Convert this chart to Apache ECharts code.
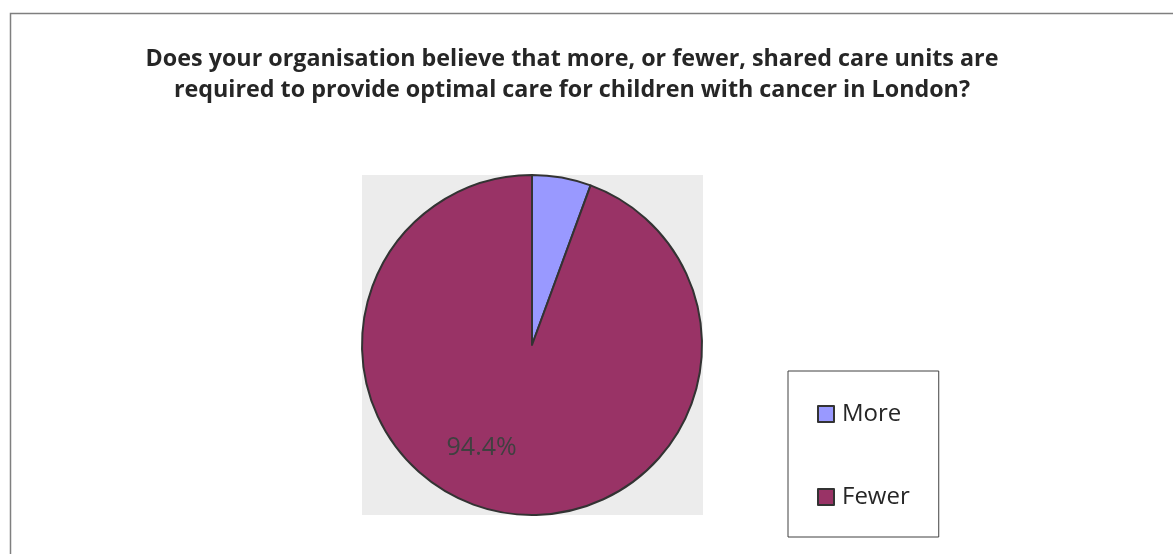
<!DOCTYPE html>
<html>
<head>
<meta charset="utf-8">
<script src="https://cdn.jsdelivr.net/npm/echarts@6/dist/echarts.min.js"></script>
<style>
html,body{margin:0;padding:0;background:#fff;}
#chart{width:1173px;height:554px;}
</style>
</head>
<body>
<div id="chart"></div>
<script>
const categories = ['More', 'Fewer'];
const values = [5.6, 94.4];
const colors = ['#9999FF', '#993366'];
const labelShown = [false, true];
const titleText = 'Does your organisation believe that more, or fewer, shared care units are\nrequired to provide optimal care for children with cancer in London?';

const chart = echarts.init(document.getElementById('chart'));
const option = {
  backgroundColor: '#ffffff',
  animation: false,
  title: {
    text: titleText,
    left: 567,
    textAlign: 'center',
    top: 39,
    textStyle: {
      fontFamily: 'Open Sans',
      fontWeight: 'bold',
      fontSize: 23.3,
      color: '#262626',
      lineHeight: 31
    }
  },
  graphic: [
    {
      type: 'rect',
      shape: { x: 10.5, y: 13.5, width: 1200, height: 600 },
      style: { fill: 'none', stroke: '#7f7f7f', lineWidth: 1.5 },
      z: -10
    },
    {
      type: 'rect',
      shape: { x: 362, y: 175, width: 341, height: 340 },
      style: { fill: '#ECECEC' },
      z: -5
    }
  ],
  legend: {
    orient: 'vertical',
    left: 788,
    top: 371,
    padding: [31, 29, 28, 29],
    itemGap: 59,
    itemWidth: 16,
    itemHeight: 16,
    borderColor: '#404040',
    borderWidth: 1,
    icon: 'rect',
    textStyle: { fontFamily: 'Open Sans', fontSize: 24, color: '#262626', padding: [0,0,0,3] },
    data: categories
  },
  series: [{
    type: 'pie',
    center: [532, 345],
    radius: 170,
    startAngle: 90,
    clockwise: true,
    label: {
      position: 'inside',
      formatter: function (p) { return p.value.toFixed(1) + '%'; },
      fontFamily: 'Open Sans',
      fontSize: 25,
      color: '#404040'
    },
    labelLayout: { dx: -35, dy: 16 },
    labelLine: { show: false },
    itemStyle: { borderColor: '#333333', borderWidth: 2 },
    emphasis: { disabled: true },
    data: categories.map(function (c, i) {
      return { name: c, value: values[i], itemStyle: { color: colors[i] }, label: { show: labelShown[i] } };
    })
  }]
};
chart.setOption(option);
</script>
</body>
</html>
